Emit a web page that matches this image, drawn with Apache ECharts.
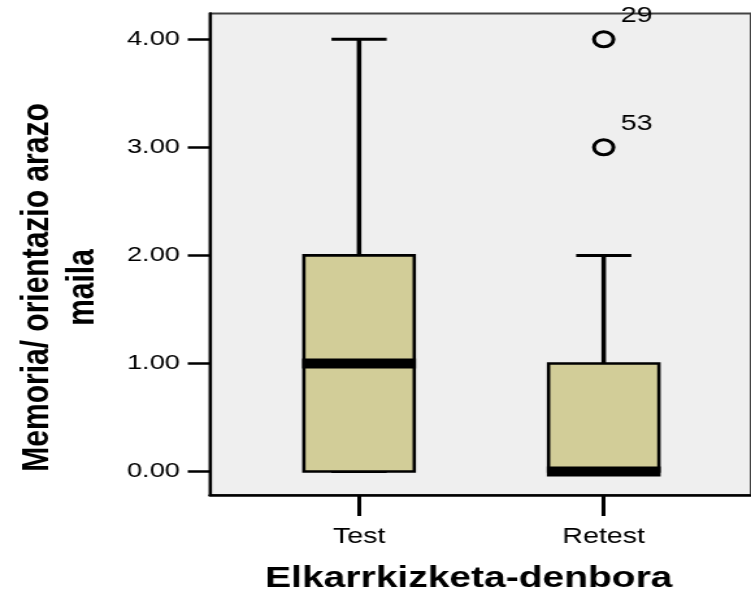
<!DOCTYPE html>
<html>
<head>
<meta charset="utf-8">
<script src="https://cdn.jsdelivr.net/npm/echarts@6/dist/echarts.min.js"></script>
<style>
html,body{margin:0;padding:0;background:#fff;}
#wrap{width:751px;height:601px;overflow:hidden;position:relative;}
#chart{width:578px;height:601px;transform:scaleX(1.2993);transform-origin:0 0;}
</style>
</head>
<body>
<div id="wrap"><div id="chart"></div></div>
<script>
// ---- data ----
var categories = ['Test', 'Retest'];
var whiskerLow = [0, 0];
var q1 = [0, 0];
var median = [1, 0];
var q3 = [2, 1];
var whiskerHigh = [4, 2];
var outlierCategory = [1, 1];
var outlierValue = [4, 3];
var outlierCase = ['29', '53'];
var yTicks = [0, 1, 2, 3, 4];
var xTitle = 'Elkarrkizketa-denbora';
var yTitle = 'Memoria/ orientazio arazo\nmaila';

var FONT = '"Liberation Sans", Arial, Helvetica, sans-serif';
var BOX_W = 0.451;

var boxData = categories.map(function (c, i) {
  return [i, whiskerLow[i], q1[i], median[i], q3[i], whiskerHigh[i]];
});
var outlierData = outlierValue.map(function (v, i) {
  return { value: [outlierCategory[i], v], name: outlierCase[i] };
});

var chart = echarts.init(document.getElementById('chart'), null, { renderer: 'canvas' });

function renderBox(params, api) {
  var x = api.value(0);
  var lo = api.value(1), b1 = api.value(2), md = api.value(3), b3 = api.value(4), hi = api.value(5);
  var pLo = api.coord([x, lo]), p1 = api.coord([x, b1]), pm = api.coord([x, md]),
      p3 = api.coord([x, b3]), pHi = api.coord([x, hi]);
  var w = api.size([BOX_W, 0])[0];
  var cx = pm[0];
  var left = cx - w / 2, right = cx + w / 2;
  var cap = w / 4;
  var black = '#000';
  return {
    type: 'group',
    children: [
      { type: 'line', shape: { x1: cx, y1: p3[1], x2: cx, y2: pHi[1] }, style: { stroke: black, lineWidth: 3.5 } },
      { type: 'line', shape: { x1: cx, y1: p1[1], x2: cx, y2: pLo[1] }, style: { stroke: black, lineWidth: 3.5 } },
      { type: 'line', shape: { x1: cx - cap, y1: pHi[1], x2: cx + cap, y2: pHi[1] }, style: { stroke: black, lineWidth: 3 } },
      { type: 'line', shape: { x1: cx - cap, y1: pLo[1], x2: cx + cap, y2: pLo[1] }, style: { stroke: black, lineWidth: 3 } },
      { type: 'rect', shape: { x: left, y: p3[1], width: w, height: p1[1] - p3[1] },
        style: { fill: '#d2cd98', stroke: black, lineWidth: 2.6 } },
      { type: 'line', shape: { x1: left - 1.3, y1: pm[1], x2: right + 1.3, y2: pm[1] },
        style: { stroke: black, lineWidth: 10 } }
    ]
  };
}

chart.setOption({
  animation: false,
  backgroundColor: '#ffffff',
  grid: {
    left: 161.5, right: -2, top: 13.5, bottom: 106,
    show: true, backgroundColor: '#efefef', borderColor: '#444', borderWidth: 2
  },
  xAxis: {
    type: 'value', min: -0.61, max: 1.602,
    splitLine: { show: false },
    axisLine: { show: true, onZero: false, lineStyle: { color: '#000', width: 2.5 } },
    axisTick: { show: true, customValues: [0, 1], length: 21, lineStyle: { color: '#000', width: 3 } },
    axisLabel: {
      customValues: [0, 1], margin: 31, color: '#000', fontSize: 22, fontFamily: FONT,
      formatter: function (v) { return categories[Math.round(v)]; }
    }
  },
  yAxis: {
    type: 'value', min: -0.2175, max: 4.239,
    splitLine: { show: false },
    axisLine: { show: true, onZero: false, lineStyle: { color: '#000', width: 2.3 } },
    axisTick: { show: true, customValues: yTicks, length: 17, lineStyle: { color: '#000', width: 2.5 } },
    axisLabel: {
      customValues: yTicks, margin: 23, color: '#000', fontSize: 21, fontFamily: FONT,
      formatter: function (v) { return v.toFixed(2); }
    }
  },
  graphic: [
    {
      type: 'text', x: 360.8, y: 579,
      style: { text: xTitle, fill: '#000', font: 'bold 30px ' + FONT, align: 'center', verticalAlign: 'middle' }
    },
    {
      type: 'text', x: 46.5, y: 287.5, rotation: Math.PI / 2,
      style: { text: yTitle, fill: '#000', font: 'bold 30px ' + FONT, align: 'center', verticalAlign: 'middle', lineHeight: 34.6 }
    }
  ],
  series: [
    {
      type: 'custom',
      renderItem: renderBox,
      data: boxData,
      encode: { x: 0, y: [1, 2, 3, 4, 5] },
      clip: false,
      z: 2
    },
    {
      type: 'scatter',
      data: outlierData,
      symbol: 'circle',
      symbolSize: 15,
      itemStyle: { color: 'transparent', borderColor: '#000', borderWidth: 3, opacity: 1 },
      label: {
        show: true, position: [22, -3], align: 'left', verticalAlign: 'bottom',
        formatter: function (p) { return p.name; },
        color: '#000', fontSize: 22, fontFamily: FONT
      },
      z: 3
    }
  ]
});
</script>
</body>
</html>
